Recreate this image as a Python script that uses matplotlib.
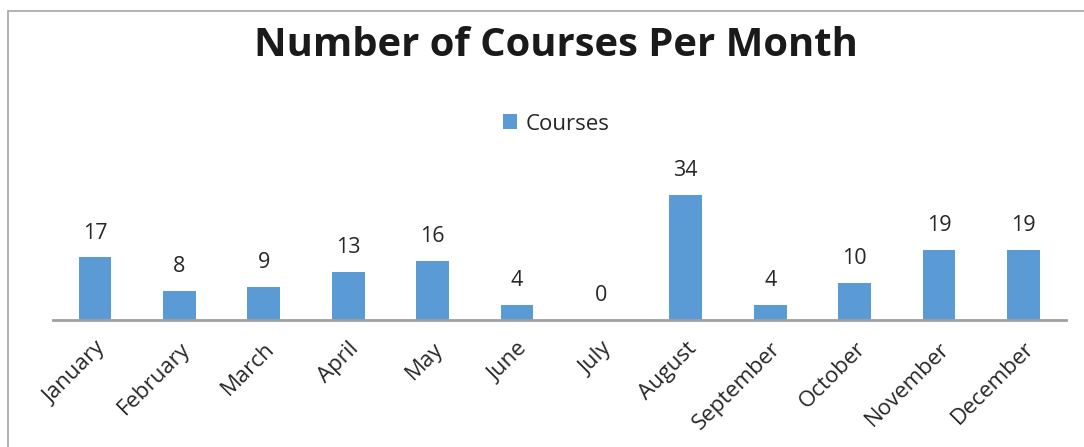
import matplotlib
matplotlib.use("Agg")
import matplotlib.pyplot as plt
from matplotlib.patches import Rectangle

months = ["January", "February", "March", "April", "May", "June", "July",
          "August", "September", "October", "November", "December"]
courses = [17, 8, 9, 13, 16, 4, 0, 34, 4, 10, 19, 19]
series_name = "Courses"
title = "Number of Courses Per Month"

plt.rcParams['font.family'] = ['Open Sans', 'DejaVu Sans']
W, H = 1084, 447
fig = plt.figure(figsize=(W / 100, H / 100), dpi=100)

# chart border
fig.patches.append(Rectangle((8 / W, -0.1), 1.2, 1 - 11 / H + 0.1, transform=fig.transFigure,
                             fill=False, edgecolor="#A6A6A6", linewidth=1.2))

ax = fig.add_axes([52.8 / W, (H - 320) / H, 1012.8 / W, 165.6 / H])
bar_color = "#5B9BD5"
x = list(range(len(months)))
bars = ax.bar(x, courses, width=0.39, color=bar_color, label=series_name, zorder=2)
ax.set_xlim(-0.5, len(months) - 0.5)
ax.set_ylim(0, 45)

for xi, v in zip(x, courses):
    ax.annotate(str(v), (xi, v), xytext=(0, 10), textcoords="offset points",
                ha="center", va="bottom", fontsize=15.5, color="#262626",
                annotation_clip=False)

for s in ["top", "right", "left"]:
    ax.spines[s].set_visible(False)
ax.spines["bottom"].set_color("#A0A0A0")
ax.spines["bottom"].set_linewidth(2)
ax.set_yticks([])
ax.set_xticks(x)
ax.set_xticklabels(months, rotation=45, ha="right", rotation_mode="anchor",
                   fontsize=16, color="#262626")
ax.tick_params(axis="x", length=0, pad=13)
ax.patch.set_alpha(0)

fig.text(556 / W, 1 - 45 / H, title, ha="center", va="center", fontsize=28.8,
         fontweight="bold", color="#1a1a1a")

leg = fig.legend(handles=[bars], labels=[series_name], loc="center",
                 bbox_to_anchor=(556 / W, 1 - 124 / H), frameon=False,
                 fontsize=16, handlelength=0.65, handleheight=0.65, handletextpad=0.35)
for t in leg.get_texts():
    t.set_color("#262626")

fig.savefig("out.png", dpi=100)
